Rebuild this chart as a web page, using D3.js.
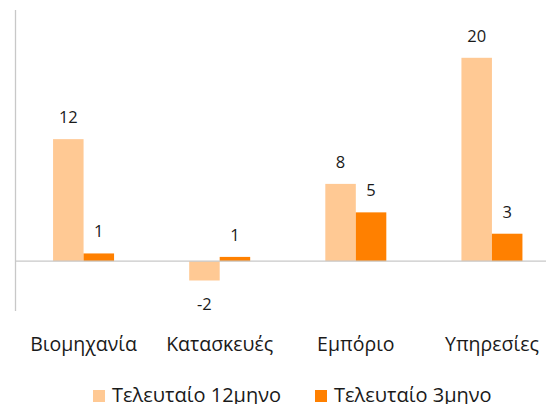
<!DOCTYPE html>
<html>
<head>
<meta charset="utf-8">
<script src="https://cdn.jsdelivr.net/npm/d3@7"></script>
<style>
  body { margin: 0; background: #fff; }
  text { font-family: "Open Sans", "Noto Sans", sans-serif; fill: #1a1a1a; }
</style>
</head>
<body>
<svg id="chart" width="546" height="404"></svg>
<script>
var categories = ["Βιομηχανία", "Κατασκευές", "Εμπόριο", "Υπηρεσίες"];
var seriesNames = ["Τελευταίο 12μηνο", "Τελευταίο 3μηνο"];
// bar values, labels as printed on it
var last12 = [12, -1.9, 7.6, 20];
var last3 = [0.76, 0.42, 4.8, 2.7];
var labels12 = ["12", "-2", "8", "20"];
var labels3 = ["1", "1", "5", "3"];
var colors = ["#ffc994", "#ff8000"];

var svg = d3.select("#chart");

var x = d3.scaleBand()
  .domain(categories)
  .range([15.5, 560])
  .paddingInner(0)
  .paddingOuter(0);

var y = d3.scaleLinear()
  .domain([-4.9, 24.7])
  .range([311, 10]);

var barW = 30.5;

// y axis line
svg.append("line")
  .attr("x1", 15.5).attr("x2", 15.5)
  .attr("y1", y(24.7)).attr("y2", y(-4.9))
  .style("stroke", "#c8c8c8")
  .style("stroke-width", 1.3);

var series = [last12, last3];
var labels = [labels12, labels3];

series.forEach(function (vals, si) {
  svg.append("g").selectAll("rect")
    .data(vals)
    .enter().append("rect")
    .attr("x", function (d, i) {
      return x(categories[i]) + x.bandwidth() / 2 - barW + si * barW;
    })
    .attr("y", function (d) { return y(Math.max(0, d)); })
    .attr("width", barW)
    .attr("height", function (d) { return Math.abs(y(d) - y(0)); })
    .style("fill", colors[si]);

  svg.append("g").selectAll("text")
    .data(vals)
    .enter().append("text")
    .attr("x", function (d, i) {
      return x(categories[i]) + x.bandwidth() / 2 - barW / 2 + si * barW;
    })
    .attr("y", function (d) {
      return d >= 0 ? y(d) - 16 : y(d) + 30;
    })
    .attr("text-anchor", "middle")
    .style("font-size", "16.5px")
    .text(function (d, i) { return labels[si][i]; });
});

// zero line
svg.append("line")
  .attr("x1", 15.5).attr("x2", 546)
  .attr("y1", y(0)).attr("y2", y(0))
  .style("stroke", "#c8c8c8")
  .style("stroke-width", 1.3);

// category labels
svg.append("g").selectAll("text")
  .data(categories)
  .enter().append("text")
  .attr("x", function (d) { return x(d) + x.bandwidth() / 2; })
  .attr("y", 350.5)
  .attr("text-anchor", "middle")
  .style("font-size", "19.5px")
  .text(function (d) { return d; });

// legend
var legendX = [93, 315];
var lg = svg.append("g").selectAll("g")
  .data(seriesNames)
  .enter().append("g")
  .attr("transform", function (d, i) { return "translate(" + legendX[i] + ",0)"; });

lg.append("rect")
  .attr("x", 0).attr("y", 390)
  .attr("width", 12).attr("height", 12)
  .style("fill", function (d, i) { return colors[i]; });

lg.append("text")
  .attr("x", 19).attr("y", 402)
  .style("font-size", "20px")
  .text(function (d) { return d; });
</script>
</body>
</html>
